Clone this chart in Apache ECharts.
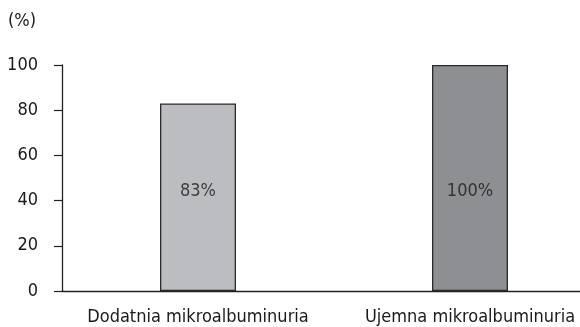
<!DOCTYPE html>
<html>
<head>
<meta charset="utf-8">
<script src="https://cdn.jsdelivr.net/npm/echarts@6/dist/echarts.min.js"></script>
<style>
html,body{margin:0;padding:0;background:#fff;}
#chart{width:580px;height:327px;}
</style>
</head>
<body>
<div id="chart"></div>
<script>
const categories = ['Dodatnia mikroalbuminuria', 'Ujemna mikroalbuminuria'];
const values = [83, 100];
const barColors = ['#bcbdc1', '#8e8f92'];
const yTicks = [0, 20, 40, 60, 80, 100];
const valueLabels = ['83%', '100%'];
const labelLevel = 44;

const FONT = '"DejaVu Sans Condensed", "Liberation Sans Narrow", sans-serif';
const TXT = '#1a1a1a';

const chart = echarts.init(document.getElementById('chart'), null, {renderer: 'canvas'});
chart.setOption({
  animation: false,
  backgroundColor: '#ffffff',
  title: {
    text: '(%)',
    left: 8, top: 12,
    padding: 0,
    textStyle: {fontFamily: FONT, fontSize: 18, fontWeight: 'normal', color: TXT}
  },
  grid: {left: 62, width: 544, top: 65, bottom: 36, containLabel: false, outerBoundsMode: 'none'},
  xAxis: {
    type: 'category',
    data: categories,
    axisLine: {show: true, lineStyle: {color: '#222', width: 1.3}},
    axisTick: {show: false},
    axisLabel: {fontFamily: FONT, fontSize: 18, color: TXT, margin: 17, interval: 0}
  },
  yAxis: {
    type: 'value',
    min: yTicks[0], max: yTicks[yTicks.length - 1], interval: 20,
    splitLine: {show: false},
    axisLine: {show: true, lineStyle: {color: '#222', width: 1.3}},
    axisTick: {show: true, length: 8, lineStyle: {color: '#222', width: 1.2}},
    axisLabel: {fontFamily: FONT, fontSize: 18, color: TXT, margin: 24}
  },
  series: [
    {
      type: 'bar',
      barWidth: 76,
      data: values.map((v, i) => ({
        value: v,
        itemStyle: {color: barColors[i], borderColor: '#2a2a2a', borderWidth: 1.3}
      }))
    },
    {
      type: 'scatter',
      symbolSize: 0,
      silent: true,
      data: categories.map((c, i) => [i, labelLevel]),
      label: {
        show: true,
        position: 'inside',
        fontFamily: FONT, fontSize: 18, color: TXT,
        formatter: p => valueLabels[p.dataIndex]
      }
    }
  ]
});
</script>
</body>
</html>
